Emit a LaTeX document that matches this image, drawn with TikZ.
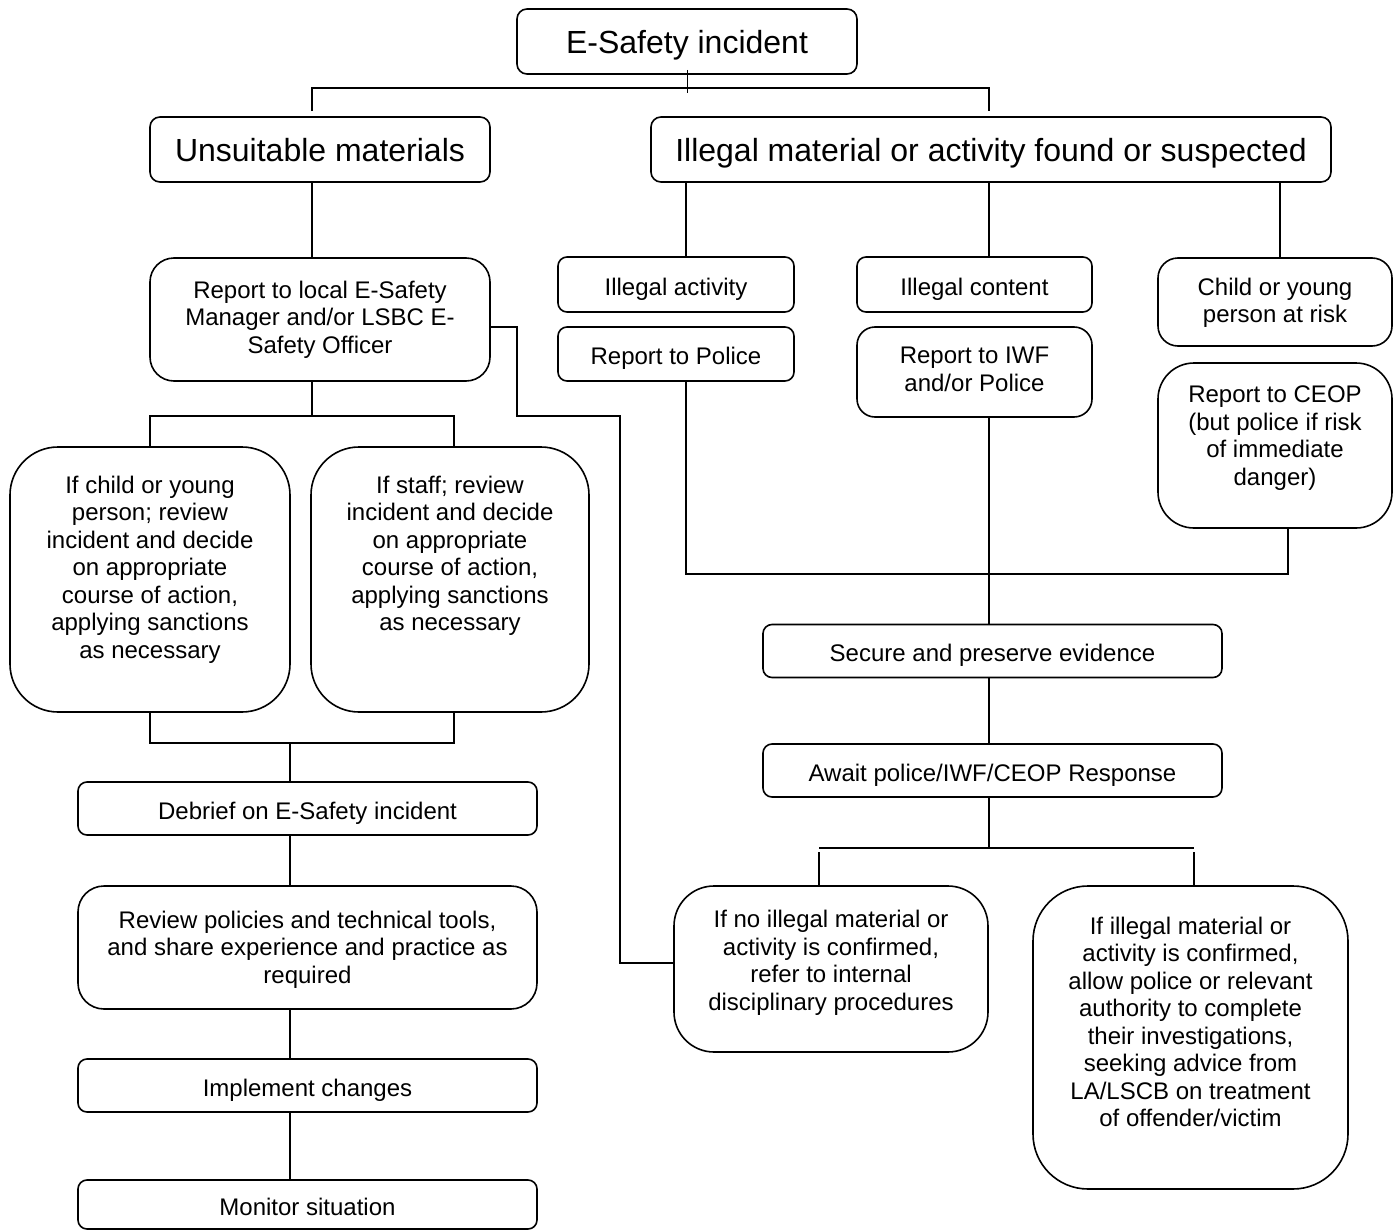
\documentclass[tikz,border=0pt]{standalone}
\usepackage{fontspec}
\setmainfont{Liberation Sans}
\usetikzlibrary{calc}
\newcommand\fsmall{\fontsize{24}{27.5}\selectfont}
\newcommand\fbig{\fontsize{32}{37}\selectfont}
\newcommand\tb[4]{\parbox[c][#2pt][t]{#1pt}{\centering\vspace*{#3pt}#4\par}}
\begin{document}
\begin{tikzpicture}[x=1pt,y=-1pt,
  box/.style={draw, line width=1.6pt, inner sep=0pt, outer sep=0pt, font=\fsmall},
  sbox/.style={box, text height=22pt, text depth=1pt},
  hbox/.style={box, font=\fbig, text height=24.5pt, text depth=0.5pt},
  ln/.style={line width=1.6pt},
  tick/.style={line width=1pt}]
\fill[white] (0,0) rectangle (1393,1231);
\useasboundingbox (0,0) rectangle (1393,1231);

% ---- top level
\node[hbox, rounded corners=10pt, minimum width=340pt, minimum height=65pt] (T) at (687,41.5) {E-Safety incident};
\node[hbox, rounded corners=10pt, minimum width=340pt, minimum height=65pt] (U) at (320,149.5) {Unsuitable materials};
\node[hbox, rounded corners=10pt, minimum width=680pt, minimum height=65pt] (I) at (991,149.5) {Illegal material or activity found or suspected};

% ---- left branch
\node[box, rounded corners=24pt] (R1) at (320,319.5) {\tb{340}{123}{23}{Report to local E-Safety\\Manager and/or LSBC E-\\Safety Officer}};
\node[box, rounded corners=48pt] (C1) at (150,579.5) {\tb{280}{265}{29}{If child or young\\person; review\\incident and decide\\on appropriate\\course of action,\\applying sanctions\\as necessary}};
\node[box, rounded corners=48pt] (C2) at (450,579.5) {\tb{278}{265}{29}{If staff; review\\incident and decide\\on appropriate\\course of action,\\applying sanctions\\as necessary}};
\node[sbox, rounded corners=9pt, minimum width=459pt, minimum height=53pt] (D) at (307.5,808.5) {Debrief on E-Safety incident};
\node[box, rounded corners=26pt] (RV) at (307.5,947.5) {\tb{459}{123}{25}{Review policies and technical tools,\\and share experience and practice as\\required}};
\node[sbox, rounded corners=9pt, minimum width=459pt, minimum height=53pt] (IM) at (307.5,1085.5) {Implement changes};
\node[sbox, rounded corners=9pt, minimum width=459pt, minimum height=49pt] (M) at (307.5,1204.5) {Monitor situation};

% ---- right branch
\node[sbox, rounded corners=9pt, minimum width=236pt, minimum height=55pt] (IA) at (676,284.5) {Illegal activity};
\node[sbox, rounded corners=9pt, minimum width=236pt, minimum height=54pt] (RP) at (676,354) {Report to Police};
\node[sbox, rounded corners=9pt, minimum width=235pt, minimum height=55pt] (IC) at (974.5,284.5) {Illegal content};
\node[box, rounded corners=18pt] (IWF) at (974.5,372) {\tb{235}{90}{20}{Report to IWF\\and/or Police}};
\node[box, rounded corners=20pt] (CR) at (1275,302) {\tb{234}{88}{20}{Child or young\\person at risk}};
\node[box, rounded corners=36pt] (CEOP) at (1275,445.5) {\tb{234}{165}{23}{Report to CEOP\\(but police if risk\\of immediate\\danger)}};
\node[sbox, rounded corners=9pt, minimum width=459pt, minimum height=53pt] (S) at (992.5,651) {Secure and preserve evidence};
\node[sbox, rounded corners=9pt, minimum width=459pt, minimum height=53pt] (A) at (992.5,770.5) {Await police/IWF/CEOP Response};
\node[box, rounded corners=40pt] (N1) at (831,969) {\tb{314}{166}{24.5}{If no illegal material or\\activity is confirmed,\\refer to internal\\disciplinary procedures}};
\node[box, rounded corners=55pt] (N2) at (1190.5,1037.5) {\tb{315}{303}{31}{If illegal material or\\activity is confirmed,\\allow police or relevant\\authority to complete\\their investigations,\\seeking advice from\\LA/LSCB on treatment\\of offender/victim}};

% ---- helper coordinates
\coordinate (xL) at (312,0);
\coordinate (xE) at (290,0);
\coordinate (xF) at (454,0);
\coordinate (xA) at (686,0);
\coordinate (xB) at (989,0);
\coordinate (xC) at (1280,0);
\coordinate (xD) at (1288,0);
\coordinate (tr) at (989,88);
\coordinate (j1) at (312,416);
\coordinate (j2) at (290,743);
\coordinate (k1) at (517,416);
\coordinate (k2) at (620,963);
\coordinate (j3) at (989,574);
\coordinate (j4) at (989,848);
\coordinate (h1) at (819,848);
\coordinate (h2) at (1194,848);

% ---- connectors, top
\draw[tick] ([yshift=4pt]T.south) -- ([yshift=-19pt]T.south);
\draw[ln] ($(U.north -| xL)+(0,-6)$) |- (tr) -- ($(I.north -| xB)+(0,-6)$);

% ---- connectors, left
\draw[ln] (U.south -| xL) -- (R1.north -| xL);
\draw[ln] (R1.south -| xL) -- (j1);
\draw[ln] (C1.north) |- (j1) -| (C2.north -| xF);
\draw[ln] (C1.south) |- (j2) -| (C2.south -| xF);
\draw[ln] (j2) -- (D.north -| xE);
\draw[ln] (D.south -| xE) -- (RV.north -| xE);
\draw[ln] (RV.south -| xE) -- (IM.north -| xE);
\draw[ln] (IM.south -| xE) -- (M.north -| xE);
\draw[ln] ($(R1.east)+(0,7.5)$) -| (k1) -| (k2) -- (k2 -| N1.west);

% ---- connectors, right
\draw[ln] (I.south -| xA) -- (IA.north -| xA);
\draw[ln] (I.south -| xB) -- (IC.north -| xB);
\draw[ln] (I.south -| xC) -- (CR.north -| xC);
\draw[ln] (RP.south -| xA) |- (j3 -| xD) -- (CEOP.south -| xD);
\draw[ln] (IWF.south -| xB) -- (S.north -| xB);
\draw[ln] (S.south -| xB) -- (A.north -| xB);
\draw[ln] (A.south -| xB) -- (j4);
\draw[ln] (h1) -- (h2);
\draw[ln] ($(h1)+(0,4)$) -- (N1.north -| h1);
\draw[ln] ($(h2)+(0,4)$) -- (N2.north -| h2);
\end{tikzpicture}
\end{document}
